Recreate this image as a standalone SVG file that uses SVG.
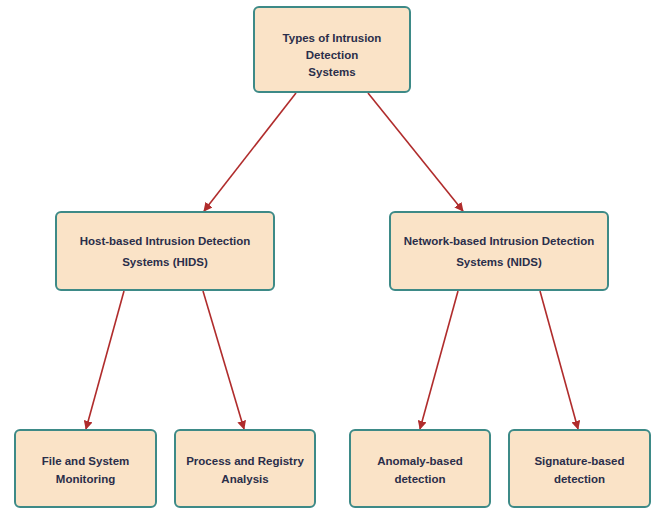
<svg xmlns="http://www.w3.org/2000/svg" width="652" height="508" viewBox="0 0 652 508">
<style>
.n rect{fill:#fae3c7;stroke:#3d8a87;stroke-width:2}
.n text{font-family:"Liberation Sans",Arial,sans-serif;font-weight:bold;font-size:11.5px;fill:#2a2e4a;text-anchor:middle;dominant-baseline:central}
.e line{stroke:#b02c2c;stroke-width:1.6;marker-end:url(#a)}
</style>
<defs>
<marker id="a" viewBox="0 0 10 10" refX="9" refY="5" markerWidth="9" markerHeight="9" markerUnits="userSpaceOnUse" orient="auto"><path d="M0,0L10,5L0,10z" fill="#b02c2c"/></marker>
</defs>
<rect width="652" height="508" fill="#fff"/>
<g class="e">
<line x1="296" y1="93" x2="204" y2="211"/>
<line x1="368" y1="93" x2="463" y2="211"/>
<line x1="124" y1="291" x2="86" y2="429"/>
<line x1="203" y1="291" x2="244" y2="429"/>
<line x1="458" y1="291" x2="420" y2="429"/>
<line x1="540" y1="291" x2="578" y2="429"/>
</g>
<g class="n" id="root"><rect x="254" y="7" width="156" height="85" rx="5"/><text x="332" y="38">Types of Intrusion</text><text x="332" y="55">Detection</text><text x="332" y="72">Systems</text></g>
<g class="n" id="hids"><rect x="56" y="212" width="218" height="78" rx="5"/><text x="165" y="241">Host-based Intrusion Detection</text><text x="165" y="262">Systems (HIDS)</text></g>
<g class="n" id="nids"><rect x="390" y="212" width="218" height="78" rx="5"/><text x="499" y="241">Network-based Intrusion Detection</text><text x="499" y="262">Systems (NIDS)</text></g>
<g class="n" id="fsm"><rect x="15" y="430" width="141" height="77" rx="5"/><text x="85.5" y="461">File and System</text><text x="85.5" y="479">Monitoring</text></g>
<g class="n" id="pra"><rect x="175" y="430" width="140" height="77" rx="5"/><text x="245" y="461">Process and Registry</text><text x="245" y="479">Analysis</text></g>
<g class="n" id="anom"><rect x="350" y="430" width="140" height="77" rx="5"/><text x="420" y="461">Anomaly-based</text><text x="420" y="479">detection</text></g>
<g class="n" id="sig"><rect x="509" y="430" width="141" height="77" rx="5"/><text x="579.5" y="461">Signature-based</text><text x="579.5" y="479">detection</text></g>
</svg>
